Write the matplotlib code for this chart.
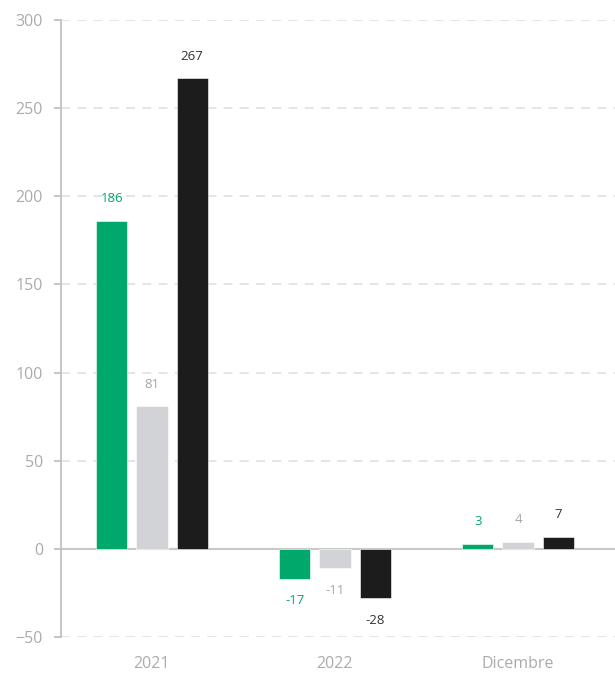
import matplotlib.pyplot as plt
import numpy as np

categories = ["2021", "2022", "Dicembre"]
serie_verde = [186, -17, 3]
serie_grigia = [81, -11, 4]
serie_nera = [267, -28, 7]

colori = ["#00A86B", "#D1D3D6", "#1C1C1C"]
colori_testo = ["#00A86B", "#A6A6A6", "#333333"]

plt.rcParams['font.family'] = ['Open Sans', 'DejaVu Sans']

fig = plt.figure(figsize=(6.15, 6.73), dpi=100)
ax = fig.add_axes([61 / 615, 1 - 637 / 673, 554 / 615, 617 / 673])

x = np.arange(len(categories))
width = 0.17
offset = 0.22

for i, serie in enumerate([serie_verde, serie_grigia, serie_nera]):
    pos = x + (i - 1) * offset
    ax.bar(pos, serie, width, color=colori[i], zorder=3, edgecolor="white", linewidth=0.4)
    for xp, v in zip(pos, serie):
        dy = 22 if v >= 0 else -22
        ax.annotate(str(v), (xp, v), xytext=(0, dy), textcoords="offset pixels",
                    ha="center", va="center", fontsize=9.5, color=colori_testo[i])

ax.set_xlim(-0.497, 2.53)
ax.set_ylim(-50, 300)
ax.set_yticks(range(-50, 301, 50))
ax.set_xticks(x)
ax.set_xticklabels(categories)

ax.yaxis.grid(True, linestyle=(0, (5, 4)), color="#E3E3E3", linewidth=1.3, zorder=0)
ax.axhline(0, color="#C8C8C8", linewidth=1.5, zorder=2)

for s in ["top", "right", "bottom"]:
    ax.spines[s].set_visible(False)
ax.spines["left"].set_color("#C0C0C0")
ax.spines["left"].set_linewidth(1.3)

ax.tick_params(axis="y", colors="#C0C0C0", labelcolor="#ABABAB", labelsize=11.5, length=5, width=1.3, pad=8)
ax.tick_params(axis="x", length=0, labelcolor="#ABABAB", labelsize=11.5, pad=14)

fig.savefig("out.png", dpi=100)
